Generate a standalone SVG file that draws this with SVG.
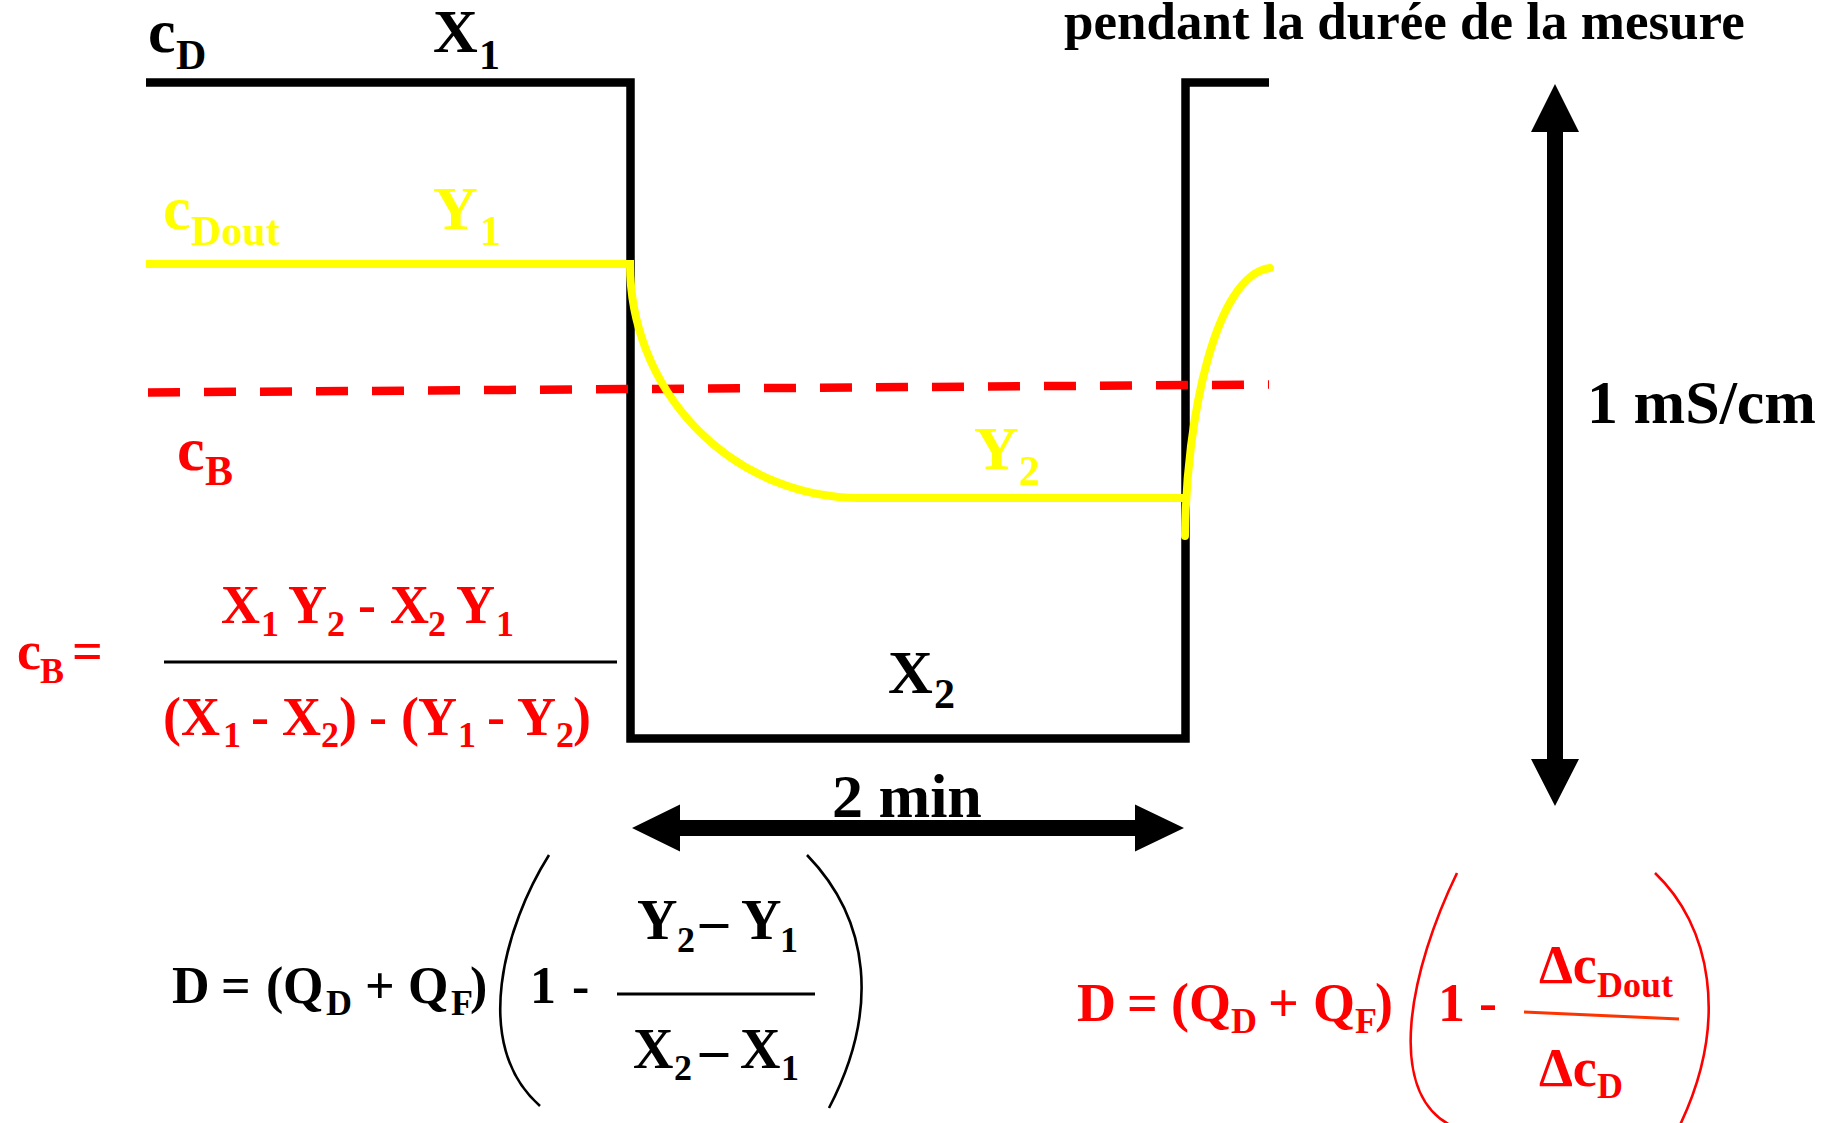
<svg xmlns="http://www.w3.org/2000/svg" width="1834" height="1123" viewBox="0 0 1834 1123">
<style>
text{font-family:"Liberation Serif","Times New Roman",serif;font-weight:bold}
.blk{fill:#000}
.red{fill:#ff0000}
.yel{fill:#ffff00}
.m62{font-size:62px}
.s42{font-size:42px}
.m54{font-size:54px}
.m52{font-size:52px}
.m56{font-size:56px}
.s36{font-size:36px}
.thin{fill:none;stroke-width:2.6}
</style>
<rect width="1834" height="1123" fill="#fff"/>

<g id="signals">
  <path id="cD-line" d="M146,82.5 H630.5 V738.5 H1185.5 V82.5 H1269" fill="none" stroke="#000" stroke-width="8.5" stroke-linejoin="miter"/>
  <path id="cB-line" d="M148,392.5 L1269,384.5" fill="none" stroke="#ff0000" stroke-width="8.5" stroke-dasharray="32 24"/>
  <path id="cDout-line" d="M146,264 H630 A230,234 0 0 0 860,498 H1185" fill="none" stroke="#ffff00" stroke-width="8"/>
  <path id="cDout-rise" d="M1185,536 C1186,420 1215,275 1270,268" fill="none" stroke="#ffff00" stroke-width="8" stroke-linecap="round"/>
</g>

<g id="connectors">
  <path id="arrow-2min" d="M632,828 L680,804.5 V820 H1135 V804.5 L1184,828 L1135,851.5 V836 H680 V851.5 Z" fill="#000"/>
  <path id="arrow-1mS" d="M1555,84 L1579,132 H1563 V759 H1579 L1555,806 L1531,759 H1547 V132 H1531 Z" fill="#000"/>
</g>

<g id="label-title"><text class="blk" x="1064" y="39" font-size="53">pendant la durée de la mesure</text></g>
<g id="label-cD"><text class="blk m62" x="148" y="52">c<tspan class="s42" x="176" y="69">D</tspan></text></g>
<g id="label-X1"><text class="blk m62" x="433" y="52">X<tspan class="s42" x="479" y="69">1</tspan></text></g>
<g id="label-cDout"><text class="yel m62" x="163" y="229">c<tspan class="s42" x="191" y="245">Dout</tspan></text></g>
<g id="label-Y1"><text class="yel m62" x="433" y="229">Y<tspan class="s42" x="480" y="245">1</tspan></text></g>
<g id="label-cB"><text class="red m62" x="177" y="470">c<tspan class="s42" x="205" y="485">B</tspan></text></g>
<g id="label-Y2"><text class="yel m62" x="974" y="469">Y<tspan class="s42" x="1019" y="485">2</tspan></text></g>
<g id="label-X2"><text class="blk m62" x="888" y="693">X<tspan class="s42" x="934" y="708">2</tspan></text></g>
<g id="label-2min"><text class="blk m62" x="832" y="817">2 min</text></g>
<g id="label-1mS"><text class="blk m62" x="1587" y="423">1 mS/cm</text></g>

<g id="formula-cB">
  <text class="red m54" x="17" y="669">c<tspan class="s36" x="40" y="683">B</tspan><tspan x="72" y="669">=</tspan></text>
  <text class="red m54" y="623"><tspan x="221">X</tspan><tspan class="s36" x="261" y="636">1</tspan><tspan x="288" y="623">Y</tspan><tspan class="s36" x="327" y="636">2</tspan><tspan x="358" y="623">-</tspan><tspan x="390" y="623">X</tspan><tspan class="s36" x="428" y="636">2</tspan><tspan x="456" y="623">Y</tspan><tspan class="s36" x="496" y="636">1</tspan></text>
  <line x1="164" y1="662" x2="617" y2="662" stroke="#000" stroke-width="3"/>
  <text class="red m54" y="735"><tspan x="163">(</tspan><tspan x="181">X</tspan><tspan class="s36" x="223" y="747">1</tspan><tspan x="251" y="735">-</tspan><tspan x="282" y="735">X</tspan><tspan class="s36" x="321" y="747">2</tspan><tspan x="339" y="735">)</tspan><tspan x="369" y="735">-</tspan><tspan x="401" y="735">(</tspan><tspan x="418" y="735">Y</tspan><tspan class="s36" x="458" y="747">1</tspan><tspan x="487" y="735">-</tspan><tspan x="517" y="735">Y</tspan><tspan class="s36" x="556" y="747">2</tspan><tspan x="573" y="735">)</tspan></text>
</g>

<g id="formula-D-black">
  <text class="blk m52" y="1003"><tspan x="172">D</tspan><tspan x="221">=</tspan><tspan x="266">(</tspan><tspan x="283">Q</tspan><tspan class="s36" x="326" y="1015">D</tspan><tspan x="365" y="1003">+</tspan><tspan x="408" y="1003">Q</tspan><tspan class="s36" x="451" y="1015">F</tspan><tspan x="470" y="1003">)</tspan><tspan x="530" y="1003">1</tspan><tspan x="572" y="1003">-</tspan></text>
  <path class="thin" d="M549,855 C505,925 470,1045 540,1106" stroke="#000"/>
  <path class="thin" d="M807,855 C870,920 880,1010 829,1108" stroke="#000"/>
  <text class="blk m56" y="939"><tspan x="637">Y</tspan><tspan class="s36" x="677" y="952">2</tspan><tspan x="700" y="939">–</tspan><tspan x="741" y="939">Y</tspan><tspan class="s36" x="780" y="952">1</tspan></text>
  <line x1="617" y1="994" x2="815" y2="994" stroke="#000" stroke-width="3"/>
  <text class="blk m56" y="1068"><tspan x="633">X</tspan><tspan class="s36" x="674" y="1080">2</tspan><tspan x="700" y="1068">–</tspan><tspan x="740" y="1068">X</tspan><tspan class="s36" x="781" y="1080">1</tspan></text>
</g>

<g id="formula-D-red">
  <text class="red m54" y="1021"><tspan x="1077">D</tspan><tspan x="1127">=</tspan><tspan x="1171">(</tspan><tspan x="1189">Q</tspan><tspan class="s36" x="1231" y="1033">D</tspan><tspan x="1268" y="1021">+</tspan><tspan x="1313" y="1021">Q</tspan><tspan class="s36" x="1355" y="1033">F</tspan><tspan x="1375" y="1021">)</tspan><tspan x="1438" y="1021">1</tspan><tspan x="1479" y="1021">-</tspan></text>
  <path class="thin" d="M1457,873 C1410,970 1385,1090 1450,1125" stroke="#ff0000"/>
  <path class="thin" d="M1655,873 C1710,925 1730,1020 1680,1125" stroke="#ff0000"/>
  <text class="red m54" x="1539" y="983">Δc<tspan class="s36" x="1597" y="997">Dout</tspan></text>
  <line x1="1524" y1="1012" x2="1679" y2="1019" stroke="#ff3300" stroke-width="3"/>
  <text class="red m54" x="1539" y="1086">Δc<tspan class="s36" x="1597" y="1098">D</tspan></text>
</g>
</svg>
